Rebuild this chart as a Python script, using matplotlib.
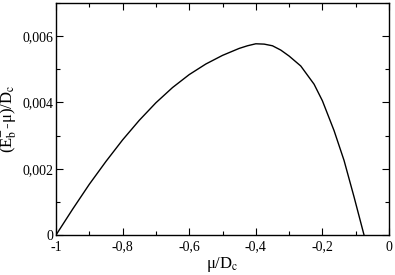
import matplotlib
matplotlib.use("Agg")
import matplotlib.pyplot as plt
from matplotlib.ticker import MultipleLocator, FuncFormatter

# values
mu = [-1.0, -0.95, -0.9, -0.85, -0.8, -0.75, -0.7, -0.65, -0.6, -0.55, -0.5,
      -0.45, -0.425, -0.4, -0.375, -0.35, -0.325, -0.3, -0.265, -0.225, -0.2,
      -0.165, -0.135, -0.105, -0.075]
energy = [0.0, 0.00078, 0.00153, 0.00222, 0.00287, 0.00346, 0.00399, 0.00445,
          0.00484, 0.00516, 0.00542, 0.00563, 0.00571, 0.00577, 0.00576,
          0.00571, 0.00558, 0.00540, 0.0051, 0.00455, 0.00405, 0.00315,
          0.00225, 0.00115, 0.0]

plt.rcParams["font.family"] = ["Liberation Serif", "DejaVu Serif"]
plt.rcParams["mathtext.fontset"] = "stix"
plt.rcParams["axes.unicode_minus"] = False

fig = plt.figure(figsize=(3.95, 2.75), dpi=100)
ax = fig.add_axes([0.1418, 0.1455, 0.843, 0.8435])

ax.plot(mu, energy, color="black", linewidth=1.0)

ax.set_xlim(-1, 0)
ax.set_ylim(0, 0.007)


def xfmt(v, pos):
    if abs(v) < 1e-12:
        return "0"
    return ("%g" % v).replace(".", ",")


def yfmt(v, pos):
    if abs(v) < 1e-12:
        return "0"
    return ("%.3f" % v).replace(".", ",")


ax.xaxis.set_major_locator(MultipleLocator(0.2))
ax.xaxis.set_minor_locator(MultipleLocator(0.1))
ax.yaxis.set_major_locator(MultipleLocator(0.002))
ax.yaxis.set_minor_locator(MultipleLocator(0.001))
ax.xaxis.set_major_formatter(FuncFormatter(xfmt))
ax.yaxis.set_major_formatter(FuncFormatter(yfmt))

ax.tick_params(which="both", direction="in", top=True, right=True, labelsize=10, width=0.8)
ax.tick_params(which="major", length=5)
ax.tick_params(which="minor", length=3)
ax.tick_params(axis="y", pad=2)
ax.tick_params(axis="x", pad=4)
for s in ax.spines.values():
    s.set_linewidth(1.0)

ax.set_xlabel("μ/D$_\\mathrm{c}$", fontsize=12, labelpad=1)
ax.set_ylabel("(E$_\\mathrm{b}^{-}$-μ)/D$_\\mathrm{c}$", fontsize=12, labelpad=2)

fig.savefig("out.png", dpi=100)
